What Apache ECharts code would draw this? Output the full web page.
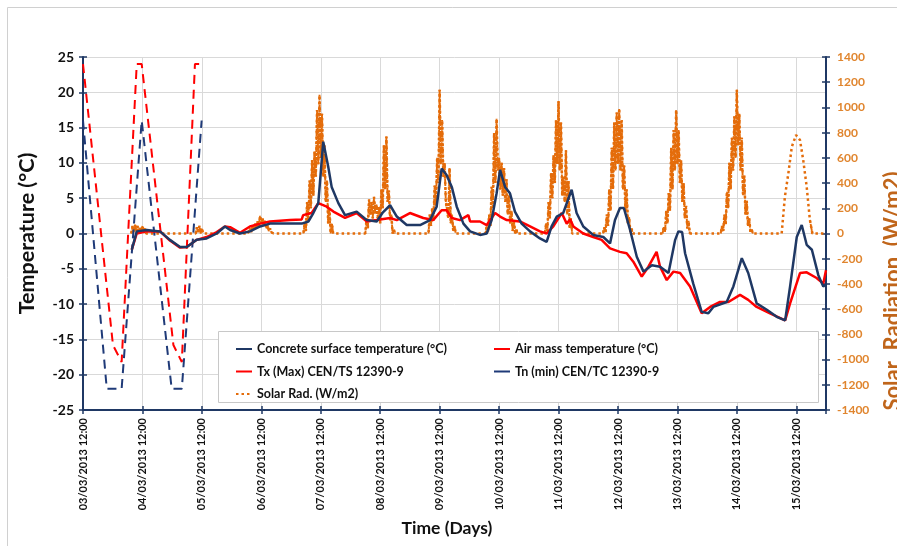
<!DOCTYPE html>
<html><head><meta charset="utf-8">
<script src="https://cdn.jsdelivr.net/npm/echarts@6/dist/echarts.min.js"></script>
<style>html,body{margin:0;padding:0;background:#fff}#c{width:897px;height:546px}</style>
</head><body><div id="c"></div>
<script>
// x values are hours after 03/03/2013 12:00
const xTickLabels = ['03/03/2013 12:00','04/03/2013 12:00','05/03/2013 12:00','06/03/2013 12:00','07/03/2013 12:00','08/03/2013 12:00','09/03/2013 12:00','10/03/2013 12:00','11/03/2013 12:00','12/03/2013 12:00','13/03/2013 12:00','14/03/2013 12:00','15/03/2013 12:00'];

const concreteHours = [19.7,21.7,25.7,31.1,35.1,39.2,41.9,45.9,49.9,54.0,57.3,59.4,63.4,67.4,71.5,75.5,83.6,88.3,91.0,93.0,95.0,97.0,99.0,100.4,103.1,105.8,110.5,114.6,118.6,121.1,124.0,126.7,130.7,136.1,140.1,142.8,144.8,146.8,148.9,150.9,153.6,156.3,160.3,163.0,165.0,167.0,168.4,170.4,172.4,174.4,177.1,180.5,184.5,187.2,189.2,191.3,193.9,197.3,199.3,202.0,206.0,210.1,212.8,214.8,216.8,218.4,220.9,223.6,226.3,229.7,233.0,236.4,239.1,240.4,241.9,243.1,246.4,249.8,252.5,254.5,259.9,262.6,266.0,268.6,272.0,276.1,280.1,283.5,285.5,288.2,290.2,292.2,294.3,296.9,298.9,300];
const concreteTemp = [-2.3,0.3,0.5,0.3,-0.9,-1.9,-1.9,-0.9,-0.7,0,1.0,0.5,0,0.3,1.0,1.4,1.4,1.4,1.7,2.9,4.3,13.0,9.5,6.6,4.3,2.6,3.1,1.9,1.7,3.0,4.0,2.4,1.2,1.2,1.9,3.8,9.2,8.3,6.6,3.8,1.4,0.3,-0.2,0,1.9,5.7,9.0,6.6,5.7,3.1,1.4,0.3,-0.7,-1.2,1.0,2.4,2.9,6.2,2.9,1.0,-0.2,-0.5,-1.4,1.9,3.6,3.6,0.5,-3.3,-5.4,-4.5,-4.7,-5.6,-0.9,0.3,0.2,-2.8,-7.1,-11.1,-11.3,-10.4,-9.7,-7.5,-3.5,-5.6,-9.9,-10.8,-11.8,-12.3,-7.5,-0.5,1.2,-1.6,-2.3,-5.9,-7.5,-7.2];

const airHours = [19.7,21.7,25.7,31.1,35.1,39.2,41.9,45.9,49.9,54.0,57.3,59.4,63.4,67.4,71.5,75.5,83.6,88.3,88.9,92.3,95.0,98.4,101.1,105.8,110.5,114.6,118.6,124.0,126.7,132.0,137.4,141.4,144.8,146.8,148.9,152.2,155.6,156.3,160.3,163.0,166.4,168.4,171.1,176.4,180.5,184.5,187.2,189.9,193.3,195.3,196.7,198.0,202.0,206.0,209.4,212.8,216.8,219.5,222.2,225.6,228.3,231.6,233.0,235.7,238.4,241.1,245.1,249.8,253.2,257.2,260.6,265.3,268.6,272.0,277.4,283.5,285.5,289.5,292.2,296.2,298.9,300];
const airTemp = [-2.3,0,0.3,0.3,-1.0,-2.0,-1.9,-0.9,-0.5,0.2,1.0,0.9,0.1,1.0,1.4,1.7,1.9,2.0,2.6,2.9,4.3,3.8,3.1,2.2,2.9,1.7,1.9,2.2,1.9,2.9,2.2,1.9,3.3,3.3,2.2,1.9,2.6,1.7,1.7,1.2,2.9,2.4,1.9,1.7,1.0,0.3,0,1.0,2.9,1.4,2.0,1.0,0,-0.5,-0.9,-2.1,-2.6,-2.8,-4.0,-6.1,-4.7,-2.6,-4.7,-6.6,-5.4,-5.6,-7.5,-11.3,-10.4,-9.7,-9.7,-8.7,-9.4,-10.4,-11.3,-12.3,-9.9,-5.6,-5.5,-6.3,-7.1,-5.2];

const txHours = [0,12.1,15.6,21.7,23.7,36.5,39.9,45.2,47.9];
const txTemp  = [24,-15.8,-18.2,24,24,-15.8,-18.2,24,24];
const tnHours = [0,9.6,15.6,23.7,35.8,39.9,47.9];
const tnTemp  = [16,-22,-22,16,-22,-22,16];

const solarHours = [
 19.5,20,20.5,21,21.5,22,22.5,23,23.5,24,24.5,25,25.5,
 45.5,46,46.5,47,47.5,48,48.5,
 66.5,67,67.5,68,68.5,69,69.5,70,70.5,71,71.5,72,72.5,73,73.5,74,74.5,75,75.5,76,76.5,77,
 89,89.5,90,90.5,91,91.5,92,92.5,93,93.5,94,94.5,95,95.5,96,96.5,97,97.5,98,98.5,99,99.5,100,100.5,101,
 114,114.5,115,115.5,116,116.5,117,117.5,118,118.5,119,119.5,120,120.5,121,121.5,122,122.5,123,123.5,124,124.5,125,125.5,126,
 139.5,140,140.5,141,141.5,142,142.5,143,143.5,144,144.5,145,145.5,146,146.5,147,147.5,148,148.5,149,149.5,150,150.5,
 162.5,163,163.5,164,164.5,165,165.5,166,166.5,167,167.5,168,168.5,169,169.5,170,170.5,171,171.5,172,172.5,173,173.5,174,174.5,175,175.5,
 186.5,187,187.5,188,188.5,189,189.5,190,190.5,191,191.5,192,192.5,193,193.5,194,194.5,195,195.5,196,196.5,197,197.5,
 210,210.5,211,211.5,212,212.5,213,213.5,214,214.5,215,215.5,216,216.5,217,217.5,218,218.5,219,219.5,220,220.5,221,221.5,222,
 234,234.5,235,235.5,236,236.5,237,237.5,238,238.5,239,239.5,240,240.5,241,241.5,242,242.5,243,243.5,244,244.5,245,
 257.5,258,258.5,259,259.5,260,260.5,261,261.5,262,262.5,263,263.5,264,264.5,265,265.5,266,266.5,267,267.5,268,268.5,269,269.5,270,270.5,
 282.1,283.4,284.8,286.2,287.9,289.5,290.8,292.2,293.5,294.5,300
];
const solarValues = [
 0,60,10,70,20,60,0,50,10,60,20,40,0,
 0,50,10,60,0,40,0,
 0,20,40,10,60,30,80,40,100,60,140,80,120,60,100,40,70,20,40,10,20,0,
 0,80,20,250,100,420,200,583,300,650,450,980,550,1100,600,950,450,700,250,420,80,200,0,80,0,
 0,120,40,270,150,250,120,290,160,230,120,210,80,350,200,700,350,770,250,340,100,150,0,30,0,
 0,150,60,200,100,380,220,600,400,1140,550,900,450,560,250,250,120,520,80,150,20,60,0,
 0,60,10,150,60,370,200,800,400,910,500,600,350,560,300,520,250,430,150,300,80,180,20,100,0,30,0,
 0,80,20,250,120,480,280,620,400,900,550,1050,500,880,300,450,250,660,150,420,40,120,0,
 0,50,10,150,60,350,180,680,350,880,500,960,550,990,500,900,350,540,180,350,80,130,10,40,0,
 0,50,10,180,80,320,180,680,350,820,500,980,550,820,400,580,250,400,120,220,40,100,0,
 0,60,20,150,70,330,200,560,350,760,500,930,600,1140,700,950,500,760,300,460,150,260,60,120,10,30,0,
 0,292,477,688,781,741,583,371,107,0,0
];

const zip = (a, b) => a.map((v, i) => [v, b[i]]);
// dense (half-hourly) daytime bursts: same readings, drawn without the long gaps so they read as filled bursts
const burstData = [];
solarHours.forEach((h, i) => {
  if (i > 0 && h - solarHours[i - 1] > 1) burstData.push([h - 0.01, null]);
  burstData.push([h, solarValues[i]]);
});

const NAVY = '#1F3864';
const RED = '#FF0000';
const ORANGE = '#E46C0A';
const FONT = 'Lato';

const names = {
  c: 'Concrete surface temperature (°C)',
  a: 'Air mass temperature (°C)',
  tx: 'Tx (Max) CEN/TS 12390-9',
  tn: 'Tn (min) CEN/TC 12390-9',
  s: 'Solar Rad. (W/m2)'
};

const chart = echarts.init(document.getElementById('c'));
const legendText = {fontFamily: FONT, fontWeight: 'bold', fontSize: 12.5, color: '#111', lineHeight: 14};
chart.setOption({
  animation: false,
  backgroundColor: '#fff',
  grid: {left: 83, right: 71, top: 57, bottom: 136, containLabel: false},
  xAxis: [{
    type: 'value', min: 0, max: 300, interval: 24,
    axisLine: {onZero: false, lineStyle: {color: NAVY, width: 2}},
    axisTick: {show: true, length: 4, lineStyle: {color: NAVY, width: 1.5}},
    axisLabel: {rotate: 90, margin: 8, fontFamily: FONT, fontWeight: 'bold', fontSize: 11, color: '#111',
      formatter: v => (v % 24 === 0 ? (xTickLabels[v / 24] || '') : '')},
    splitLine: {show: true, lineStyle: {color: '#D9D9D9', width: 1}}
  }, {
    type: 'value', min: 0, max: 300, interval: 24, position: 'bottom',
    axisLine: {show: false, onZero: false}, axisLabel: {show: false}, splitLine: {show: false},
    axisTick: {show: true, inside: true, length: 4, lineStyle: {color: NAVY, width: 1.5}}
  }],
  yAxis: [{
    type: 'value', min: -25, max: 25, interval: 5, position: 'left',
    name: 'Temperature (°C)', nameLocation: 'middle', nameGap: 45, nameRotate: 90,
    nameTextStyle: {fontFamily: FONT, fontWeight: 'bold', fontSize: 21.5, color: '#111'},
    axisLine: {show: true, onZero: false, lineStyle: {color: NAVY, width: 2}},
    axisTick: {show: true, length: 4, lineStyle: {color: NAVY, width: 1.5}},
    axisLabel: {margin: 9, fontFamily: FONT, fontWeight: 'bold', fontSize: 14, color: '#111'},
    splitLine: {show: true, lineStyle: {color: '#D9D9D9', width: 1}}
  }, {
    type: 'value', min: -1400, max: 1400, interval: 200, position: 'right',
    axisLine: {show: true, onZero: false, lineStyle: {color: NAVY, width: 2}},
    axisTick: {show: true, length: 4, lineStyle: {color: NAVY, width: 1.5}},
    axisLabel: {margin: 11, fontFamily: FONT, fontWeight: 'bold', fontSize: 12, color: '#E0852E',
      formatter: v => String(v)},
    splitLine: {show: false}
  }, {
    type: 'value', min: -25, max: 25, interval: 5, position: 'left',
    axisLine: {show: false, onZero: false}, axisLabel: {show: false}, splitLine: {show: false},
    axisTick: {show: true, inside: true, length: 4, lineStyle: {color: NAVY, width: 1.5}}
  }, {
    type: 'value', min: -1400, max: 1400, interval: 200, position: 'right',
    axisLine: {show: false, onZero: false}, axisLabel: {show: false}, splitLine: {show: false},
    axisTick: {show: true, inside: true, length: 4, lineStyle: {color: NAVY, width: 1.5}}
  }],
  legend: [{
    orient: 'vertical', left: 230, top: 337, itemGap: 8.5, itemWidth: 16, itemHeight: 10,
    textStyle: legendText, itemStyle: {opacity: 0},
    data: [{name: names.c}, {name: names.tx, lineStyle: {type: 'solid'}}, {name: names.s}]
  }, {
    orient: 'vertical', left: 488, top: 337, itemGap: 8.5, itemWidth: 16, itemHeight: 10,
    textStyle: legendText, itemStyle: {opacity: 0},
    data: [{name: names.a}, {name: names.tn, lineStyle: {type: 'solid'}}]
  }],
  graphic: [
    {type: 'rect', left: 5, top: 5, z: -10, shape: {width: 900, height: 560},
     style: {fill: 'none', stroke: '#D0D0D0', lineWidth: 1}},
    {type: 'rect', left: 218, top: 331, z: 1, shape: {width: 600, height: 71},
     style: {fill: '#fff', stroke: '#C8C8C8', lineWidth: 1}},
    {type: 'text', x: 893, y: 291, rotation: Math.PI / 2, z: 5,
     style: {text: 'Solar  Radiation  (W/m2)', font: 'bold 22px Lato', fill: '#C0651A', align: 'center', verticalAlign: 'middle'}},
    {type: 'text', x: 447, y: 528, z: 5,
     style: {text: 'Time (Days)', font: 'bold 17.5px Lato', fill: '#111', align: 'center', verticalAlign: 'middle'}}
  ],
  series: [
    {name: names.s, type: 'line', yAxisIndex: 1, data: zip(solarHours, solarValues), showSymbol: false, symbol: 'none', z: 2,
     lineStyle: {color: ORANGE, width: 2.5, type: [2.5, 3]}, itemStyle: {color: ORANGE}},
    {name: names.s, type: 'line', yAxisIndex: 1, data: burstData, showSymbol: false, symbol: 'none', z: 2,
     connectNulls: false, lineStyle: {color: ORANGE, width: 1.9, type: [3, 1]}, itemStyle: {color: ORANGE}},
    {name: names.tx, type: 'line', data: zip(txHours, txTemp), showSymbol: false, symbol: 'none', z: 3,
     lineStyle: {color: RED, width: 2, type: [9, 6]}, itemStyle: {color: RED}},
    {name: names.tn, type: 'line', data: zip(tnHours, tnTemp), showSymbol: false, symbol: 'none', z: 3,
     lineStyle: {color: '#1F3A78', width: 2, type: [9, 6]}, itemStyle: {color: '#1F3A78'}},
    {name: names.a, type: 'line', data: zip(airHours, airTemp), showSymbol: false, symbol: 'none', z: 4,
     lineStyle: {color: RED, width: 2.5}, itemStyle: {color: RED}},
    {name: names.c, type: 'line', data: zip(concreteHours, concreteTemp), showSymbol: false, symbol: 'none', z: 5,
     lineStyle: {color: NAVY, width: 2.5}, itemStyle: {color: NAVY}}
  ]
});
</script>
</body></html>
